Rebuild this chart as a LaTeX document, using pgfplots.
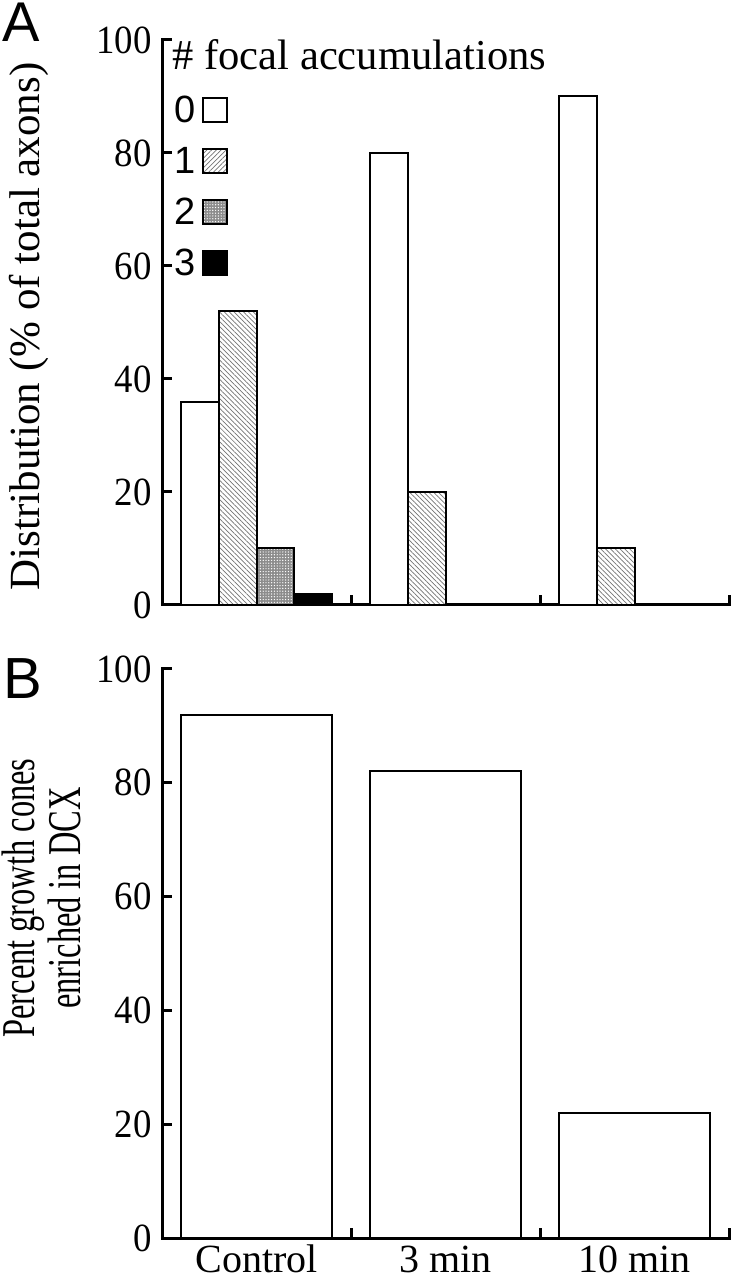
\documentclass[border=0pt]{standalone}
\usepackage{pgfplots}
\pgfplotsset{compat=1.18}
\usetikzlibrary{patterns.meta}
\usepackage{fontspec}
\setmainfont{Liberation Serif}
\setsansfont{Liberation Sans}
\newfontfamily\condserif{Liberation Serif}[FakeStretch=0.69]
\newfontfamily\tickserif{Liberation Serif}[FakeStretch=0.92]

\pgfplotsset{
  mybox/.style={legend image code/.code={\draw[##1] (0pt,-6pt) rectangle (12pt,6pt);}},
  hatchA/.style={fill=white, postaction={pattern={Lines[angle=-45,distance=1.7pt,line width=0.35pt]}, pattern color=black!55}},
  hatchL/.style={fill=white, postaction={pattern={Lines[angle=45,distance=1.7pt,line width=0.35pt]}, pattern color=black!55}},
  dotsA/.style={fill=black!45, postaction={pattern={Dots[distance=1.4pt,radius=0.35pt]}, pattern color=white}},
  common/.style={
    scale only axis, width=283.5pt, anchor=south west,
    xmin=-0.5, xmax=2.5, ymin=0, ymax=100,
    axis x line*=bottom, axis y line*=left,
    axis line style={line width=1.5pt, line cap=rect},
    ytick={0,20,...,100},
    xtick={0,1,2},
    minor xtick={0.5,1.5,2.5},
    major x tick style={draw=none},
    minor x tick style={line width=1.5pt, black},
    y tick style={line width=1.5pt, black},
    major tick length=5pt, minor tick length=5pt,
    tick align=inside,
    /pgf/number format/assume math mode=true,
    yticklabel style={font=\tickserif\fontsize{20}{24}\selectfont, inner sep=0pt, xshift=-5pt},
    xticklabel style={font=\fontsize{20}{24}\selectfont, inner sep=0pt, text height=13.6pt, text depth=0pt, yshift=-3.5pt},
    clip=false,
  }
}

\begin{document}
\begin{tikzpicture}
% ---------- Panel A ----------
\begin{axis}[common,
  at={(81pt,337.5pt)}, height=282.5pt,
  xticklabels={},
  legend plot pos=right, legend cell align=left,
  legend style={at={(rel axis cs:0.0212,0.899)}, anchor=north west,
    draw=none, fill=none, inner sep=0pt, outer sep=0pt,
    row sep=12.5pt, column sep=3.5pt,
    font=\sffamily\fontsize{19}{19}\selectfont,
    nodes={inner sep=0pt, text height=12.5pt, text depth=0pt}},
]
\addplot[ybar, bar width=0.2, bar shift=-0.3, draw=black, line width=1pt, fill=white, forget plot]
  coordinates {(0,36) (1,80) (2,90)};
\addplot[ybar, bar width=0.2, bar shift=-0.1, draw=black, line width=1pt, hatchA, forget plot]
  coordinates {(0,52) (1,20) (2,10)};
\addplot[ybar, bar width=0.2, bar shift=0.1, draw=black, line width=1pt, dotsA, forget plot]
  coordinates {(0,10)};
\addplot[ybar, bar width=0.2, bar shift=0.3, draw=black, line width=1pt, fill=black, forget plot]
  coordinates {(0,2)};

\addlegendimage{mybox, draw=black, line width=1pt, fill=white}
\addlegendentry{0}
\addlegendimage{mybox, draw=black, line width=1pt, hatchL}
\addlegendentry{1}
\addlegendimage{mybox, draw=black, line width=1pt, dotsA}
\addlegendentry{2}
\addlegendimage{mybox, draw=black, line width=1pt, fill=black}
\addlegendentry{3}

\node[anchor=base west, inner sep=0pt, font=\fontsize{21.3}{24}\selectfont]
  at (rel axis cs:0.0176,0.9469) {\# focal accumulations};
\node[rotate=90, anchor=base, inner sep=0pt, font=\fontsize{21.5}{24}\selectfont]
  at (axis description cs:-0.2152,0.493) {Distribution (\% of total axons)};
\end{axis}

% ---------- Panel B ----------
\begin{axis}[common,
  at={(81pt,21pt)}, height=284.5pt,
  xticklabels={Control, 3 min, 10 min},
]
\addplot[ybar, bar width=0.8, draw=black, line width=1pt, fill=white]
  coordinates {(0,92) (1,82) (2,22)};
\node[rotate=90, anchor=base, inner sep=0pt, font=\condserif\fontsize{23.5}{24}\selectfont]
  at (axis description cs:-0.2257,0.5975) {Percent growth cones};
\node[rotate=90, anchor=base, inner sep=0pt, font=\condserif\fontsize{23.5}{24}\selectfont]
  at (axis description cs:-0.1446,0.5975) {enriched in DCX};
\end{axis}

\node[anchor=north west, inner sep=0pt, font=\sffamily\fontsize{28}{30}\selectfont] at (1pt,638.5pt) {A};
\node[anchor=north west, inner sep=0pt, font=\sffamily\fontsize{29}{30}\selectfont] at (1.5pt,311pt) {B};

\pgfresetboundingbox
\useasboundingbox (0,0) rectangle (365.5pt,640pt);
\end{tikzpicture}
\end{document}
